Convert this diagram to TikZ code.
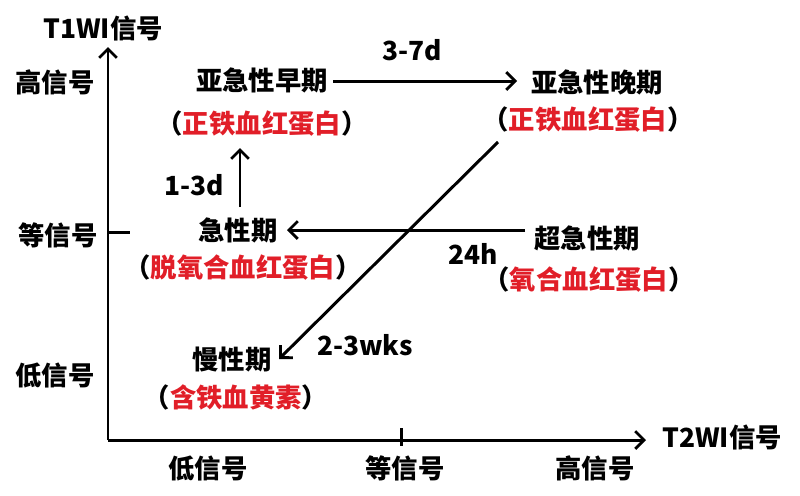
\documentclass[tikz,border=0pt]{standalone}
\usepackage{fontspec}
\setmainfont{Noto Sans CJK SC}
\usetikzlibrary{arrows.meta}
\definecolor{hred}{RGB}{225,30,40}
\begin{document}
\begin{tikzpicture}[x=0.02cm,y=-0.02cm,
  lab/.style={font=\fontsize{15}{17}\selectfont\bfseries, inner sep=1pt},
  arr/.style={line width=1.7pt, -{Straight Barb[length=5pt,width=10pt,line width=1.6pt]}},
  ax/.style={line width=1.7pt}]
\useasboundingbox (0,0) rectangle (800,495);
% axes
\coordinate (O) at (108,440);
\coordinate (ytop) at (108,47);
\coordinate (xend) at (646,440);
\coordinate (ytick) at (108,232);
\coordinate (xtick) at (401,440);
\draw[arr] (O) -- (ytop);
\draw[arr] (O) -- (xend);
\draw[ax] (ytick) -- ++(22,0);
\draw[ax] (xtick) ++(0,-12) -- ++(0,18);
% axis labels
\node[lab] (t1) at (103,28) {T1WI信号};
\node[lab] (t2) at (722,437) {T2WI信号};
\node[lab] (yh) at (55,82) {高信号};
\node[lab] (ym) at (58,235) {等信号};
\node[lab] (yl) at (55,375) {低信号};
\node[lab] (xl) at (208,468) {低信号};
\node[lab] (xm) at (405,468) {等信号};
\node[lab] (xh) at (595,468) {高信号};
% stages
\node[lab] (ase) at (262,80) {亚急性早期};
\node[lab] (asep) at (262,124) {（\textcolor{hred}{正铁血红蛋白}）};
\node[lab] (asl) at (597,82) {亚急性晚期};
\node[lab] (aslp) at (588,120) {（\textcolor{hred}{正铁血红蛋白}）};
\node[lab] (ac) at (238,230) {急性期};
\node[lab] (acp) at (243,268) {（\textcolor{hred}{脱氧合血红蛋白}）};
\node[lab] (hac) at (587,238) {超急性期};
\node[lab] (hacp) at (589,280) {（\textcolor{hred}{氧合血红蛋白}）};
\node[lab] (ch) at (232,360) {慢性期};
\node[lab] (chp) at (236,397) {（\textcolor{hred}{含铁血黄素}）};
% transitions
\draw[arr] (333,81) coordinate (a1) -- (517,81) coordinate (a2);
\node[lab] (l37) at (412,50) {3-7d};
\draw[arr] (240,207) coordinate (b1) -- (240,148) coordinate (b2);
\node[lab] (l13) at (194,185) {1-3d};
\draw[arr] (525,230) coordinate (c1) -- (287,230) coordinate (c2);
\node[lab] (l24) at (473,254) {24h};
\draw[arr] (498,142) coordinate (d1) -- (279,359) coordinate (d2);
\node[lab] (l23) at (365,345) {2-3wks};
\end{tikzpicture}
\end{document}
